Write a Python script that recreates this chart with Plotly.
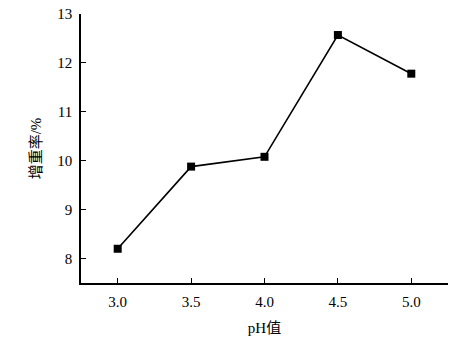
import plotly.graph_objects as go

ph = [3.0, 3.5, 4.0, 4.5, 5.0]
gain = [8.2, 9.88, 10.08, 12.57, 11.78]
x_ticks = [3.0, 3.5, 4.0, 4.5, 5.0]
x_tick_labels = ["3.0", "3.5", "4.0", "4.5", "5.0"]
y_ticks = [8, 9, 10, 11, 12, 13]

font_fam = "Liberation Serif, Noto Sans CJK SC, serif"

fig = go.Figure()
fig.add_trace(go.Scatter(
    x=ph, y=gain, mode="lines+markers",
    line=dict(color="black", width=1.6),
    marker=dict(symbol="square", size=8, color="black"),
    showlegend=False,
))
fig.update_layout(
    width=468, height=344,
    margin=dict(l=81, r=20, t=14, b=61, autoexpand=False),
    paper_bgcolor="white", plot_bgcolor="white",
    font=dict(family=font_fam, size=15, color="black"),
)
fig.update_xaxes(
    range=[2.75, 5.25], tickvals=x_ticks, ticktext=x_tick_labels,
    ticks="inside", ticklen=5, tickwidth=1.2, tickcolor="black",
    showline=True, linecolor="black", linewidth=1.5, showgrid=False, zeroline=False,
    automargin=False, ticklabelstandoff=4,
    title=dict(text="pH值", font=dict(size=15), standoff=14),
)
fig.update_yaxes(
    range=[7.5, 13], tickvals=y_ticks,
    ticks="inside", ticklen=5, tickwidth=1.2, tickcolor="black",
    showline=True, linecolor="black", linewidth=1.5, showgrid=False, zeroline=False,
    automargin=False, ticklabelstandoff=4,
    title=dict(text="增重率/%", font=dict(size=15), standoff=12),
)
fig.write_html("out.html", config={"displayModeBar": False},
               post_script="document.body.style.margin='0';")
